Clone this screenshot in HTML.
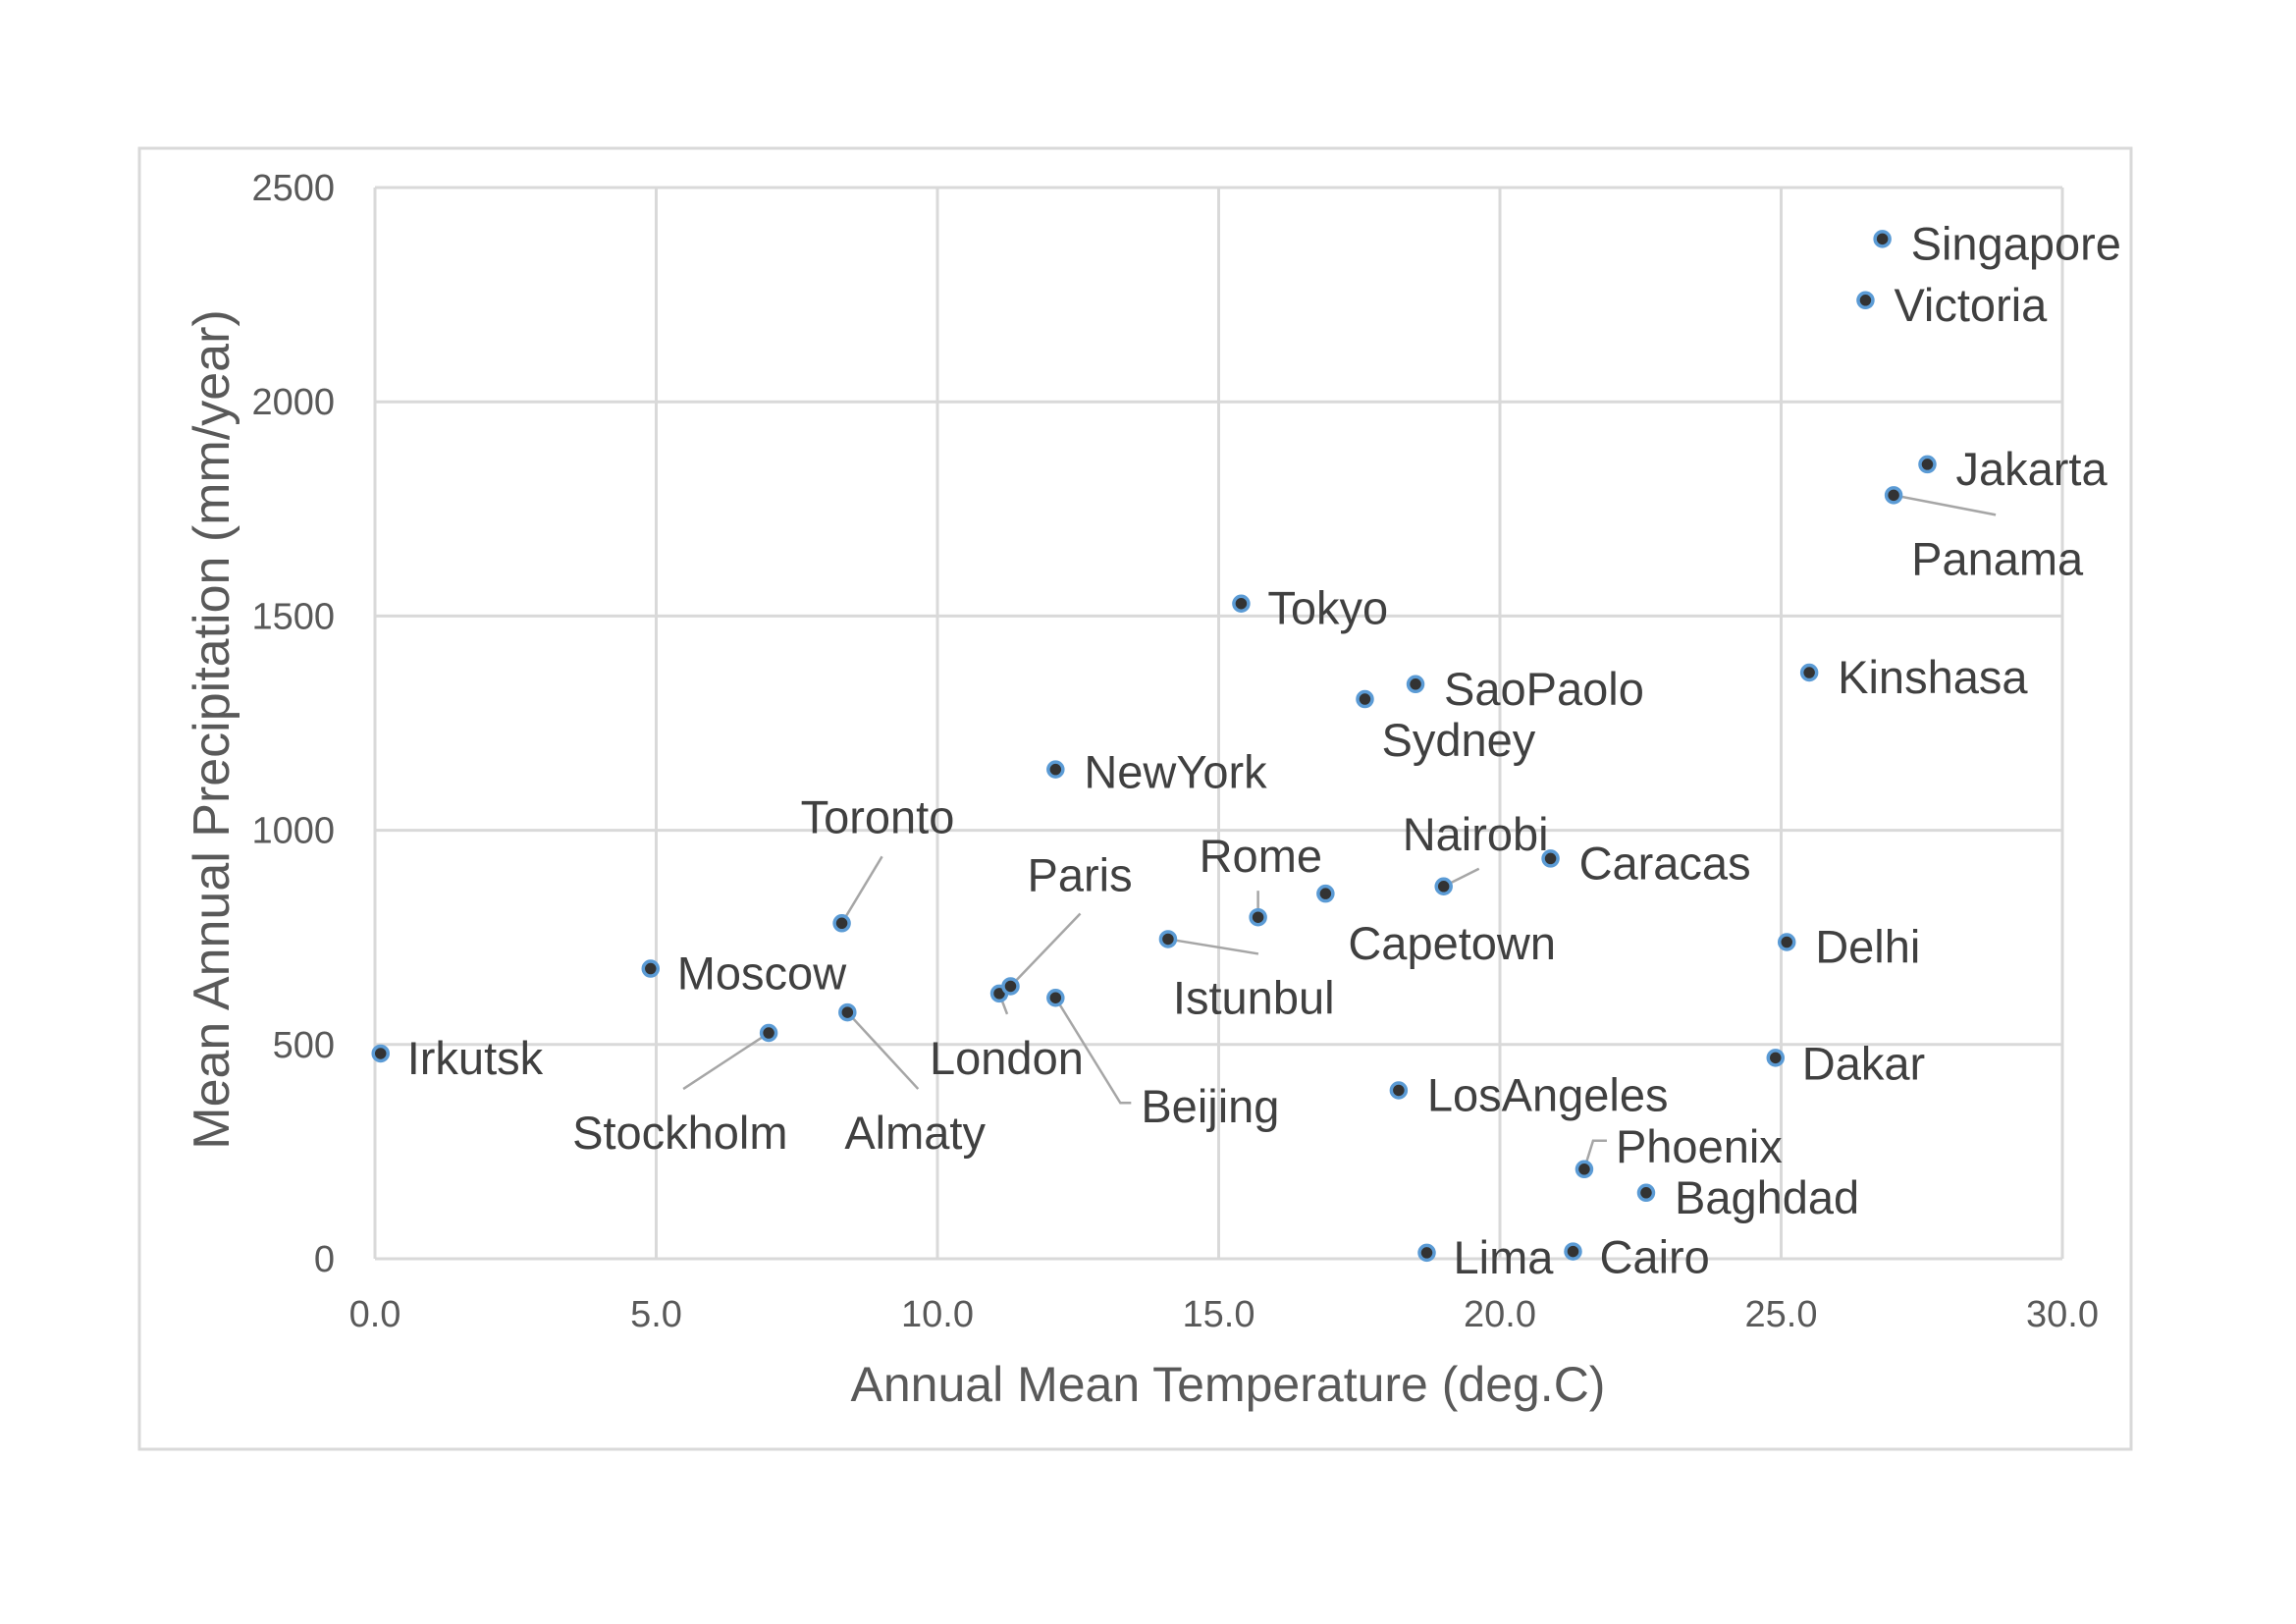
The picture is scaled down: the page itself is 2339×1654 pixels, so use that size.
<!DOCTYPE html>
<html><head><meta charset="utf-8">
<style>
html,body{margin:0;padding:0;background:#fff;}
svg{display:block;font-family:"Liberation Sans",sans-serif;}
</style></head>
<body>
<svg id="chart" width="2339" height="1654" viewBox="0 0 2339 1654" xmlns="http://www.w3.org/2000/svg">
<rect x="142" y="151" width="2029" height="1325" fill="#fff" stroke="#d9d9d9" stroke-width="3"/>
<g id="grid"></g>
<g id="ticks"></g>
<g id="leaders"></g>
<g id="points"></g>
<g id="labels"></g>
<text x="1251" y="1427" font-size="50" fill="#595959" text-anchor="middle">Annual Mean Temperature (deg.C)</text>
<text x="0" y="0" font-size="52" fill="#595959" text-anchor="middle" transform="translate(233,743) rotate(-90)">Mean Annual Precipitation (mm/year)</text>
</svg>
<script>
const cities = ["Irkutsk","Moscow","Stockholm","Almaty","Toronto","London","Paris","Beijing","NewYork","Istunbul","Tokyo","Rome","Capetown","Sydney","SaoPaolo","Nairobi","LosAngeles","Lima","Cairo","Phoenix","Baghdad","Caracas","Dakar","Delhi","Kinshasa","Panama","Jakarta","Victoria","Singapore"];
const temps = [0.1,4.9,7.0,8.4,8.3,11.1,11.3,12.1,12.1,14.1,15.4,15.7,16.9,17.6,18.5,19.0,18.2,18.7,21.3,21.5,22.6,20.9,24.9,25.1,25.5,27.0,27.6,26.5,26.8];
const precip = [479,677,527,575,783,619,636,609,1142,746,1529,797,852,1306,1341,869,393,14,17,209,154,934,469,739,1368,1782,1854,2237,2380];
const xTicks = [0,5,10,15,20,25,30];
const xTickLabels = ["0.0","5.0","10.0","15.0","20.0","25.0","30.0"];
const yTicks = [0,500,1000,1500,2000,2500];
const yTickLabels = ["0","500","1000","1500","2000","2500"];

const X0=382, X1=2101, Y0=1282, Y1=191;
const sx = v => X0 + (v-0)/(30-0)*(X1-X0);
const sy = v => Y0 - (v-0)/(2500-0)*(Y0-Y1);
const NS="http://www.w3.org/2000/svg";
function mk(tag, attrs, parent){const e=document.createElementNS(NS,tag);for(const k in attrs)e.setAttribute(k,attrs[k]);parent.appendChild(e);return e;}

const lab = {
 Singapore:[29,5],Victoria:[29,5],Jakarta:[29,5],Panama:[18,65],Kinshasa:[29,5],Tokyo:[27,5],
 SaoPaolo:[29,5],Sydney:[17,42],NewYork:[29,3],Toronto:[-42,-108],Paris:[17,-113],Rome:[-60,-62],
 Nairobi:[-42,-53],Caracas:[29,5],Capetown:[23,51],Istunbul:[5,60],Moscow:[27,5],Irkutsk:[27,5],
 Delhi:[29,5],London:[-71,66],Beijing:[87,111],Stockholm:[-200,102],Almaty:[-3,123],Dakar:[27,6],
 LosAngeles:[29,5],Phoenix:[32,-23],Baghdad:[29,5],Lima:[27,5],Cairo:[27,6]
};
const lead = {
 Panama:[[104,20]],Toronto:[[41,-68]],Paris:[[71,-74]],Rome:[[0,-27]],Nairobi:[[36,-18]],
 Istunbul:[[92,15]],London:[[8,21]],Beijing:[[66,107],[77,107]],Stockholm:[[-87,57]],
 Almaty:[[72,78]],Phoenix:[[9,-29],[23,-29]]
};

const grid=document.getElementById('grid'), ticks=document.getElementById('ticks');
xTicks.forEach((t,i)=>{
  const l=mk('line',{x1:sx(t),x2:sx(t),y1:Y1,y2:Y0,stroke:'#d9d9d9','stroke-width':3},grid);
  
  
  const tx=mk('text',{x:sx(t),y:1351,'font-size':38,fill:'#595959','text-anchor':'middle'},ticks);
  tx.textContent=xTickLabels[i];
  
  
});
yTicks.forEach((t,i)=>{
  const l=mk('line',{x1:X0,x2:X1,y1:sy(t),y2:sy(t),stroke:'#d9d9d9','stroke-width':3},grid);
  
  
  const tx=mk('text',{x:341,y:sy(t)+13,'font-size':38,fill:'#595959','text-anchor':'end'},ticks);
  tx.textContent=yTickLabels[i];
  
  
});
const pts=document.getElementById('points'), labs=document.getElementById('labels'), lds=document.getElementById('leaders');
cities.forEach((c,i)=>{
  const px=sx(temps[i]), py=sy(precip[i]);
  if(lead[c]){
    let d='M'+px+' '+py;
    lead[c].forEach(p=>{d+=' L'+(px+p[0])+' '+(py+p[1]);});
    const pl=mk('path',{d:d,fill:'none',stroke:'#a6a6a6','stroke-width':2.5},lds);
    
    
  }
  const ci=mk('circle',{cx:px,cy:py,r:7.5,fill:'#333',stroke:'#5b9bd5','stroke-width':3.5},pts);
  
  
  const o=lab[c]||[27,5];
  const t=mk('text',{x:px+o[0],y:py+o[1]+16,'font-size':47,fill:'#404040'},labs);
  t.textContent=c;
  
  
});
</script>
</body></html>
